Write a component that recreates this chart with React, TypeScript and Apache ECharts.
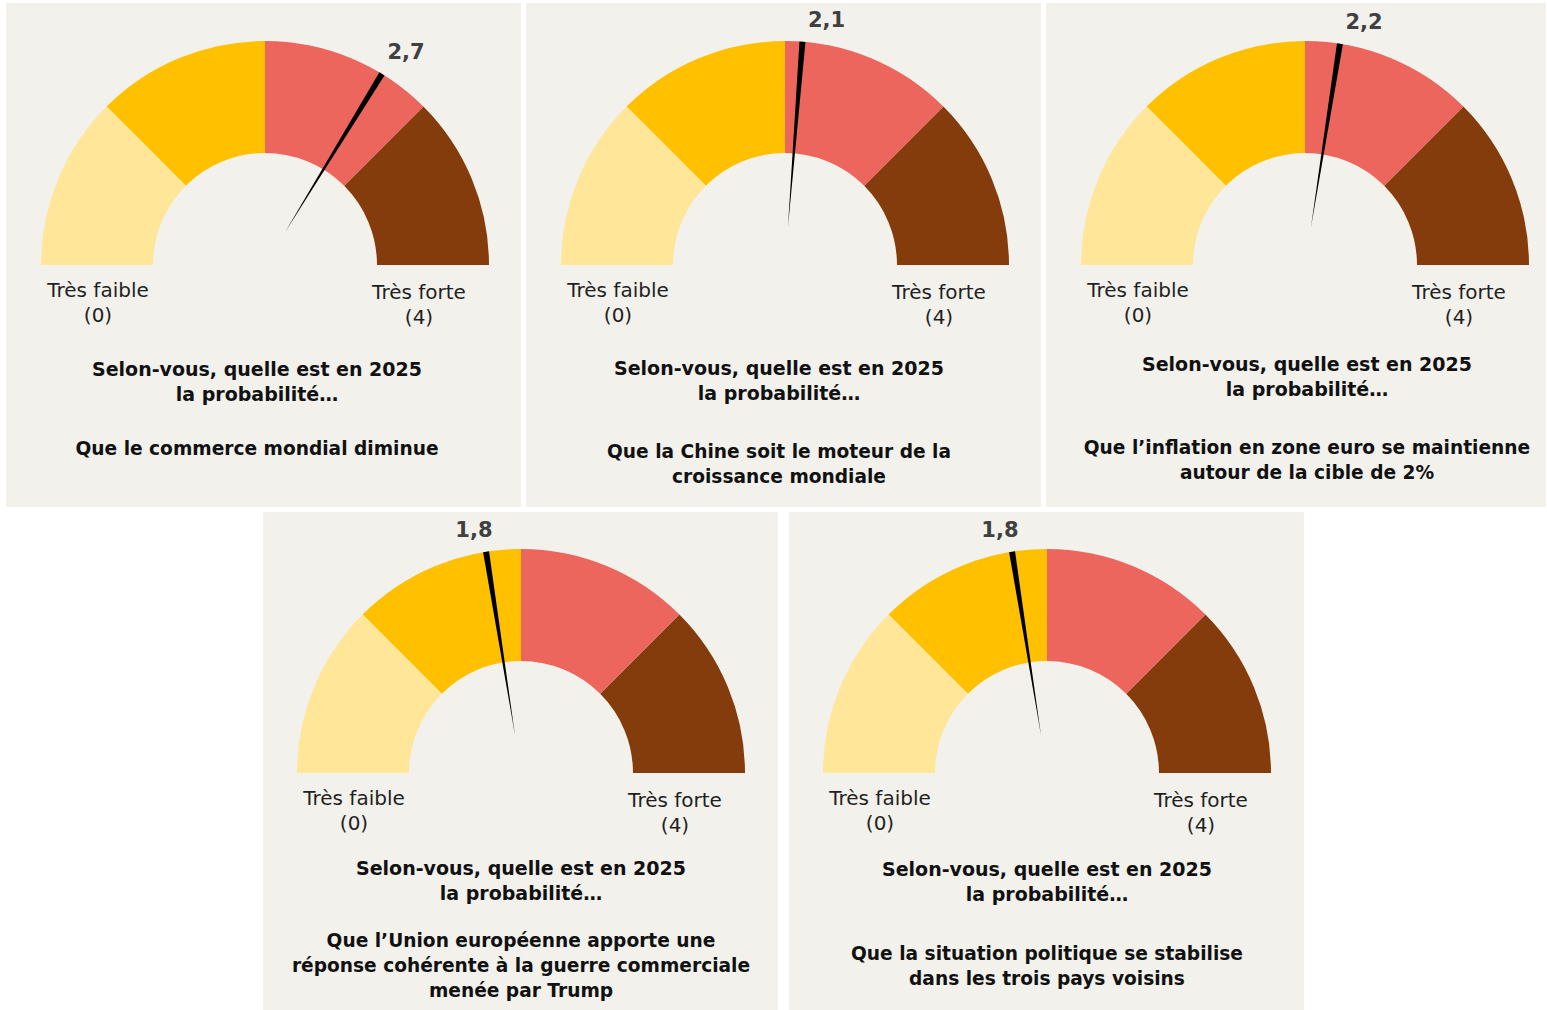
import React, { useEffect, useRef } from "react";
import * as echarts from "echarts";

// ---- data ----
const values: number[] = [2.7, 2.1, 2.2, 1.8, 1.8];
const scaleMin = 0;
const scaleMax = 4;
const bandStops: number[] = [0.25, 0.5, 0.75, 1];
const bandColors: string[] = ["#FFE699", "#FFC000", "#EC665E", "#843C0C"];
const lowLabel = "Très faible\n(0)";
const highLabel = "Très forte\n(4)";
const intro = "Selon-vous, quelle est en 2025\nla probabilité…";
const questions: string[] = [
  "Que le commerce mondial diminue",
  "Que la Chine soit le moteur de la\ncroissance mondiale",
  "Que l’inflation en zone euro se maintienne\nautour de la cible de 2%",
  "Que l’Union européenne apporte une\nréponse cohérente à la guerre commerciale\nmenée par Trump",
  "Que la situation politique se stabilise\ndans les trois pays voisins",
];

// ---- layout ----
const panels = [
  { x: 6, y: 3, w: 515, h: 504, cx: 265, cy: 265, tx: -8, introY: 369, qY: 448 },
  { x: 526, y: 3, w: 515, h: 504, cx: 785, cy: 265, tx: -6, introY: 368, qY: 451 },
  { x: 1046, y: 3, w: 500, h: 504, cx: 1305, cy: 265, tx: 2, introY: 364, qY: 447 },
  { x: 263, y: 512, w: 515, h: 498, cx: 521, cy: 773, tx: 0, introY: 868, qY: 940 },
  { x: 789, y: 512, w: 515, h: 498, cx: 1047, cy: 773, tx: 0, introY: 869, qY: 953 },
];
const R = 224;
const RING = 112;
const FONT = "'DejaVu Sans', Verdana, sans-serif";
const LH = 25;

const fmt = (v: number) => v.toFixed(1).replace(".", ",");

export default function App() {
  const ref = useRef<HTMLDivElement>(null);
  useEffect(() => {
    if (!ref.current) return;
    const chart = echarts.init(ref.current, undefined, { renderer: "svg" });

    const series: any[] = values.map((v, i) => {
      const p = panels[i];
      const ang = Math.PI * (1 - (v - scaleMin) / (scaleMax - scaleMin));
      const c = Math.cos(ang);
      const tipX = R * c;
      const tipY = -R * Math.sin(ang);
      return {
        type: "gauge",
        center: [p.cx, p.cy],
        radius: R,
        startAngle: 180,
        endAngle: 0,
        min: scaleMin,
        max: scaleMax,
        splitNumber: 4,
        axisLine: {
          lineStyle: {
            width: RING,
            color: bandStops.map((s, k) => [s, bandColors[k]]),
          },
        },
        splitLine: { show: false },
        axisTick: { show: false },
        axisLabel: { show: false },
        progress: { show: false },
        anchor: { show: false },
        title: { show: false },
        pointer: {
          show: true,
          icon: "path://M0,0 L10,0 L5,100 Z",
          length: R - 38,
          width: 6,
          offsetCenter: [0, -38],
          itemStyle: { color: "#000000" },
        },
        detail: {
          show: true,
          valueAnimation: false,
          formatter: (val: number) => fmt(val),
          offsetCenter: [tipX + (c >= 0 ? 24 : -12), tipY - 22],
          fontSize: 21,
          fontWeight: "bold",
          fontFamily: FONT,
          color: "#404040",
        },
        data: [{ value: v }],
      };
    });

    const graphic: any[] = [];
    panels.forEach((p, i) => {
      graphic.push({
        type: "rect",
        z: -10,
        shape: { x: p.x, y: p.y, width: p.w, height: p.h },
        style: { fill: "#F2F1EC" },
        silent: true,
      });
      graphic.push({
        type: "text",
        x: p.cx - 167,
        y: p.cy + 25 - LH / 2,
        style: {
          text: lowLabel,
          fontSize: 20,
          fontFamily: FONT,
          fill: "#1f1f1f",
          align: "center",
          verticalAlign: "top",
          lineHeight: LH,
        },
      });
      graphic.push({
        type: "text",
        x: p.cx + 154,
        y: p.cy + 27 - LH / 2,
        style: {
          text: highLabel,
          fontSize: 20,
          fontFamily: FONT,
          fill: "#1f1f1f",
          align: "center",
          verticalAlign: "top",
          lineHeight: LH,
        },
      });
      graphic.push({
        type: "text",
        x: p.cx + p.tx,
        y: p.introY - LH / 2,
        style: {
          text: intro,
          fontSize: 19,
          fontWeight: "bold",
          fontFamily: FONT,
          fill: "#111111",
          align: "center",
          verticalAlign: "top",
          lineHeight: LH,
        },
      });
      graphic.push({
        type: "text",
        x: p.cx + p.tx,
        y: p.qY - LH / 2,
        style: {
          text: questions[i],
          fontSize: 18.6,
          fontWeight: "bold",
          fontFamily: FONT,
          fill: "#111111",
          align: "center",
          verticalAlign: "top",
          lineHeight: LH,
        },
      });
    });

    chart.setOption({
      animation: false,
      backgroundColor: "#ffffff",
      series,
      graphic,
    });
    return () => chart.dispose();
  }, []);

  return (
    <div
      ref={ref}
      style={{ position: "fixed", left: 0, top: 0, width: 1547, height: 1010 }}
    />
  );
}
